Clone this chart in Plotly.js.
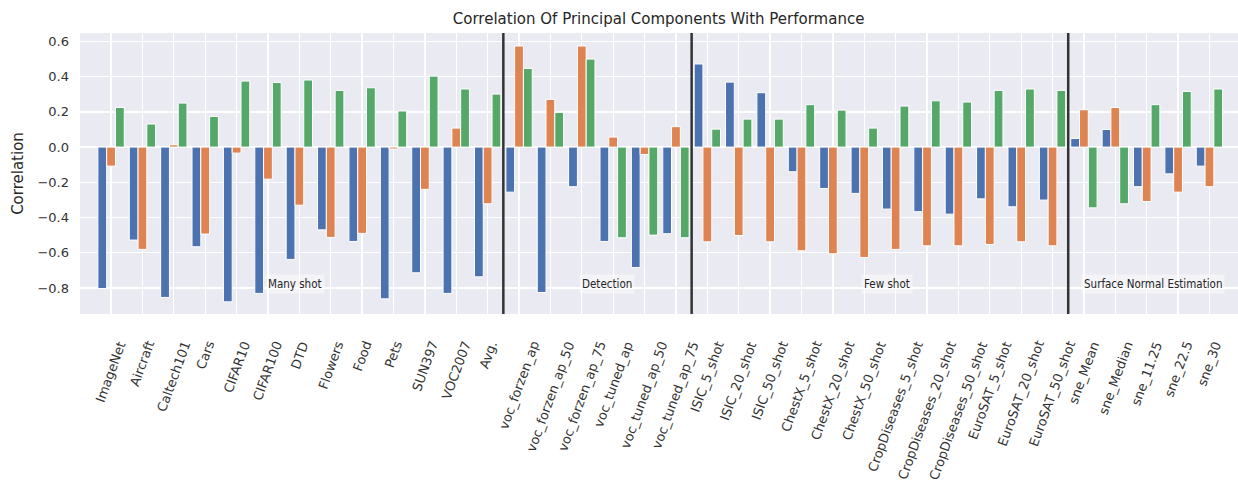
<!DOCTYPE html>
<html>
<head>
<meta charset="utf-8">
<script src="https://cdn.plot.ly/plotly-3.0.1.min.js"></script>
<style>html,body{margin:0;padding:0;background:#fff;}#chart{width:1238px;height:481px;}</style>
</head>
<body>
<div id="chart"></div>
<script>
const categories = ["ImageNet","Aircraft","Caltech101","Cars","CIFAR10","CIFAR100","DTD","Flowers","Food","Pets","SUN397","VOC2007","Avg.",
  "voc_forzen_ap","voc_forzen_ap_50","voc_forzen_ap_75","voc_tuned_ap","voc_tuned_ap_50","voc_tuned_ap_75",
  "ISIC_5_shot","ISIC_20_shot","ISIC_50_shot","ChestX_5_shot","ChestX_20_shot","ChestX_50_shot",
  "CropDiseases_5_shot","CropDiseases_20_shot","CropDiseases_50_shot","EuroSAT_5_shot","EuroSAT_20_shot","EuroSAT_50_shot",
  "sne_Mean","sne_Median","sne_11.25","sne_22.5","sne_30"];

const pc1 = [-0.803,-0.528,-0.854,-0.566,-0.879,-0.831,-0.638,-0.470,-0.536,-0.862,-0.714,-0.831,-0.737,
  -0.256,-0.826,-0.225,-0.536,-0.684,-0.492,
  0.472,0.369,0.309,-0.140,-0.235,-0.263,
  -0.352,-0.367,-0.381,-0.294,-0.339,-0.301,
  0.049,0.100,-0.225,-0.152,-0.108];

const pc2 = [-0.108,-0.581,0.013,-0.494,-0.034,-0.182,-0.330,-0.513,-0.490,-0.011,-0.240,0.108,-0.322,
  0.574,0.271,0.574,0.057,-0.042,0.116,
  -0.538,-0.502,-0.538,-0.589,-0.606,-0.627,
  -0.581,-0.561,-0.561,-0.553,-0.538,-0.561,
  0.212,0.225,-0.309,-0.256,-0.225];

const pc3 = [0.225,0.131,0.250,0.174,0.375,0.367,0.381,0.322,0.337,0.205,0.403,0.330,0.301,
  0.447,0.197,0.500,-0.515,-0.500,-0.515,
  0.102,0.159,0.159,0.241,0.210,0.108,
  0.233,0.263,0.256,0.322,0.330,0.322,
  -0.345,-0.322,0.241,0.316,0.330];

const seriesNames = ["PC1","PC2","PC3"];
const groupLabels = ["Many shot","Detection","Few shot","Surface Normal Estimation"];
const groupLabelAt = ["CIFAR100","voc_forzen_ap_75","ChestX_50_shot","sne_Mean"];
const groupEnds = ["Avg.","voc_tuned_ap_75","EuroSAT_50_shot"];

const colors = ["#4C72B0","#DD8452","#55A868"];
const textColor = "#262626";
const FONT = "DejaVu Sans, Liberation Sans, sans-serif";

const traces = [pc1, pc2, pc3].map((vals, i) => ({
  type: "bar",
  name: seriesNames[i],
  x: categories,
  y: vals,
  marker: {color: colors[i], line: {color: "#ffffff", width: 1}},
  hoverinfo: "x+y+name"
}));

const shapes = groupEnds.map(c => ({
  type: "line", xref: "x", yref: "paper",
  x0: categories.indexOf(c) + 0.5, x1: categories.indexOf(c) + 0.5,
  y0: 0, y1: 1,
  line: {color: "#333333", width: 2.5},
  layer: "above"
}));

const annotations = [];
groupLabels.forEach((t, i) => {
  annotations.push({
    text: t, x: categories.indexOf(groupLabelAt[i]), xref: "x",
    y: -0.78, yref: "y", xanchor: "left", yanchor: "middle", xshift: -3,
    showarrow: false, bgcolor: "rgba(255,255,255,0.45)", borderpad: 2,
    font: {family: "DejaVu Sans Condensed, DejaVu Sans, sans-serif", size: 11.5, color: "#262626"}
  });
});
categories.forEach(c => {
  annotations.push({
    text: c, x: c, xref: "x", y: 0, yref: "paper",
    xanchor: "center", yanchor: "top", yshift: -24,
    textangle: -70, showarrow: false, borderpad: 0,
    font: {family: FONT, size: 13, color: "#333333"}
  });
});

const layout = {
  width: 1238, height: 481,
  margin: {l: 80, r: 0, t: 33, b: 167},
  paper_bgcolor: "#ffffff",
  plot_bgcolor: "#EAEAF2",
  showlegend: false,
  barmode: "group",
  bargap: 0.16,
  bargroupgap: 0,
  font: {family: FONT, color: textColor},
  title: {text: "Correlation Of Principal Components With Performance", x: 0.532, xanchor: "center", y: 0.962, yanchor: "middle",
    font: {family: FONT, size: 15, color: textColor}},
  xaxis: {
    type: "category",
    range: [-0.99, 35.91],
    showticklabels: false,
    showgrid: true, gridcolor: "#ffffff", gridwidth: 1.3,
    zeroline: false, showline: false, ticks: ""
  },
  yaxis: {
    range: [-0.948, 0.648],
    tickvals: [-0.8,-0.6,-0.4,-0.2,0,0.2,0.4,0.6],
    tickformat: ".1f",
    showgrid: true, gridcolor: "#ffffff", gridwidth: 1.3,
    zeroline: false, showline: false, ticks: "",
    ticklabelstandoff: 10,
    tickfont: {family: FONT, size: 13, color: "#333333"},
    title: {text: "Correlation", standoff: 10, font: {family: FONT, size: 15, color: textColor}}
  },
  shapes: shapes,
  annotations: annotations
};

Plotly.newPlot("chart", traces, layout, {displayModeBar: false, staticPlot: true});
</script>
</body>
</html>
